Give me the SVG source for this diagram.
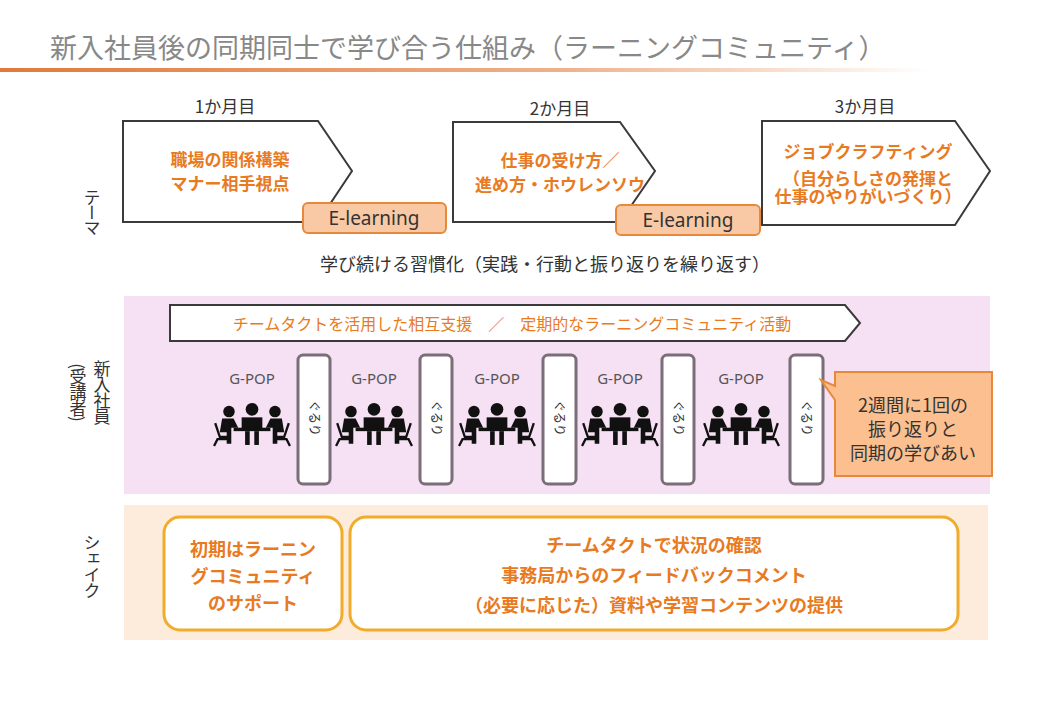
<svg xmlns="http://www.w3.org/2000/svg" width="1040" height="720" viewBox="0 0 1040 720">
<style>
text{font-family:"Noto Sans CJK JP","Noto Sans",sans-serif}
.tl{fill:#333;font-size:17px;text-anchor:middle}
.or{fill:#e87a22;font-size:17px;font-weight:bold;text-anchor:middle}
.arr{fill:#fff;stroke:#3a3a3a;stroke-width:2}
.el{fill:#f9c9a5;stroke:#e8893a;stroke-width:2}
.elt{fill:#333;font-size:19px;text-anchor:middle;font-family:"Noto Sans",sans-serif}
.gp{fill:#555;font-size:15px;text-anchor:middle;font-family:"Noto Sans",sans-serif}
.gr{fill:#fff;stroke:#7a6e78;stroke-width:3}
.grt{fill:#333;font-size:12px}
.vl{fill:#333;font-size:17px}
.rb{fill:#fff;stroke:#f0ac2a;stroke-width:3}
.rt{fill:#e87a22;font-size:18px;font-weight:bold;text-anchor:middle}
</style>
<defs>
<linearGradient id="ul" x1="0" x2="1"><stop offset="0" stop-color="#e07a3a"/><stop offset="0.6" stop-color="#eeb08a"/><stop offset="1" stop-color="#fff"/></linearGradient>
<g id="ppl" fill="#111">
<circle cx="0" cy="-18" r="5.5"/><path d="M-9,-11 h18 v10 h-18z"/>
<circle cx="-20" cy="-16" r="5"/><path d="M-26,-10 h10 l4,8 h-6 v14 h-4 v-10 h-6z"/>
<circle cx="20" cy="-16" r="5"/><path d="M26,-10 h-10 l-4,8 h6 v14 h4 v-10 h6z"/>
<rect x="-16" y="-2" width="32" height="3"/><rect x="-6" y="1" width="4" height="12"/><rect x="2" y="1" width="4" height="12"/>
<path d="M-32,-6 l4,12 h8 v2 h-10 l-3,6 M32,-6 l-4,12 h-8 v2 h10 l3,6" stroke="#111" stroke-width="2" fill="none"/>
</g>
</defs>
<rect width="1040" height="720" fill="#fff"/>
<text x="50" y="58" font-size="27" fill="#888">新入社員後の同期同士で学び合う仕組み（ラーニングコミュニティ）</text>
<rect x="0" y="68" width="930" height="4" fill="url(#ul)"/>

<text class="vl" x="92" y="212" style="writing-mode:vertical-rl" text-anchor="middle" letter-spacing="-2">テーマ</text>
<text class="vl" x="102" y="392" style="writing-mode:vertical-rl" text-anchor="middle" letter-spacing="-1">新入社員</text>
<text class="vl" x="78" y="392" style="writing-mode:vertical-rl" text-anchor="middle" letter-spacing="-1">(受講者)</text>
<text class="vl" x="92" y="566" style="writing-mode:vertical-rl" text-anchor="middle" letter-spacing="-1">シェイク</text>

<g id="m1"><text class="tl" x="225" y="113">1か月目</text>
<polygon class="arr" points="123,121 318,121 352,171 318,222 123,222"/>
<text class="or" x="230" y="166">職場の関係構築</text><text class="or" x="230" y="190">マナー相手視点</text></g>
<g id="m2"><text class="tl" x="560" y="115">2か月目</text>
<polygon class="arr" points="453,122 620,122 655,171 620,222 453,222"/>
<text class="or" x="560" y="167">仕事の受け方／</text><text class="or" x="560" y="191">進め方・ホウレンソウ</text></g>
<g id="m3"><text class="tl" x="865" y="113">3か月目</text>
<polygon class="arr" points="762,121 955,121 990,171 955,225 762,225"/>
<text class="or" x="868" y="158">ジョブクラフティング</text>
<text class="or" x="868" y="185" font-size="13">（自分らしさの発揮と</text>
<text class="or" x="868" y="203" font-size="13">仕事のやりがいづくり）</text></g>
<g id="e1"><rect class="el" x="303" y="203" width="143" height="30" rx="5"/><text class="elt" x="374" y="225">E-learning</text></g>
<g id="e2"><rect class="el" x="616" y="205" width="144" height="30" rx="5"/><text class="elt" x="688" y="227">E-learning</text></g>
<text x="545" y="271" fill="#333" font-size="18" text-anchor="middle">学び続ける習慣化（実践・行動と振り返りを繰り返す）</text>

<rect x="124" y="296" width="866" height="198" fill="#f5e1f3"/>
<g id="banner"><polygon points="170,305 845,305 860,323 845,341 170,341" fill="#fff" stroke="#3a3a3a" stroke-width="2"/>
<text x="512" y="330" fill="#e87a22" font-size="16" text-anchor="middle">チームタクトを活用した相互支援　／　定期的なラーニングコミュニティ活動</text></g>
<g id="g1"><text class="gp" x="252" y="384">G-POP</text><use href="#ppl" transform="translate(252,430) scale(1.15)"/></g>
<g id="g2"><text class="gp" x="374" y="384">G-POP</text><use href="#ppl" transform="translate(374,430) scale(1.15)"/></g>
<g id="g3"><text class="gp" x="497" y="384">G-POP</text><use href="#ppl" transform="translate(497,430) scale(1.15)"/></g>
<g id="g4"><text class="gp" x="620" y="384">G-POP</text><use href="#ppl" transform="translate(620,430) scale(1.15)"/></g>
<g id="g5"><text class="gp" x="741" y="384">G-POP</text><use href="#ppl" transform="translate(741,430) scale(1.15)"/></g>
<g id="r1"><rect class="gr" x="298" y="355" width="32" height="129" rx="5"/><text class="grt" transform="translate(310,418) rotate(90)" text-anchor="middle">ぐるり</text></g>
<g id="r2"><rect class="gr" x="420" y="355" width="32" height="129" rx="5"/><text class="grt" transform="translate(432,418) rotate(90)" text-anchor="middle">ぐるり</text></g>
<g id="r3"><rect class="gr" x="543" y="355" width="33" height="129" rx="5"/><text class="grt" transform="translate(555,418) rotate(90)" text-anchor="middle">ぐるり</text></g>
<g id="r4"><rect class="gr" x="662" y="355" width="32" height="129" rx="5"/><text class="grt" transform="translate(674,418) rotate(90)" text-anchor="middle">ぐるり</text></g>
<g id="r5"><rect class="gr" x="790" y="355" width="33" height="129" rx="5"/><text class="grt" transform="translate(802,418) rotate(90)" text-anchor="middle">ぐるり</text></g>
<g id="callout"><path d="M835,372 H992 V476 H835 V400 L821,380 L835,386 Z" fill="#fbbf90" stroke="#e8893a" stroke-width="2"/>
<text x="913" y="412" fill="#333" font-size="18" text-anchor="middle">2週間に1回の</text>
<text x="913" y="436" fill="#333" font-size="18" text-anchor="middle">振り返りと</text>
<text x="913" y="460" fill="#333" font-size="18" text-anchor="middle">同期の学びあい</text></g>

<rect x="124" y="505" width="864" height="135" fill="#fdebdc"/>
<g id="s1"><rect class="rb" x="164" y="517" width="178" height="113" rx="16"/>
<text class="rt" x="253" y="556">初期はラーニン</text><text class="rt" x="253" y="583">グコミュニティ</text><text class="rt" x="253" y="610">のサポート</text></g>
<g id="s2"><rect class="rb" x="350" y="517" width="608" height="113" rx="16"/>
<text class="rt" x="654" y="552">チームタクトで状況の確認</text><text class="rt" x="654" y="582">事務局からのフィードバックコメント</text><text class="rt" x="654" y="612">（必要に応じた）資料や学習コンテンツの提供</text></g>
<g id="connectors"/>
</svg>
